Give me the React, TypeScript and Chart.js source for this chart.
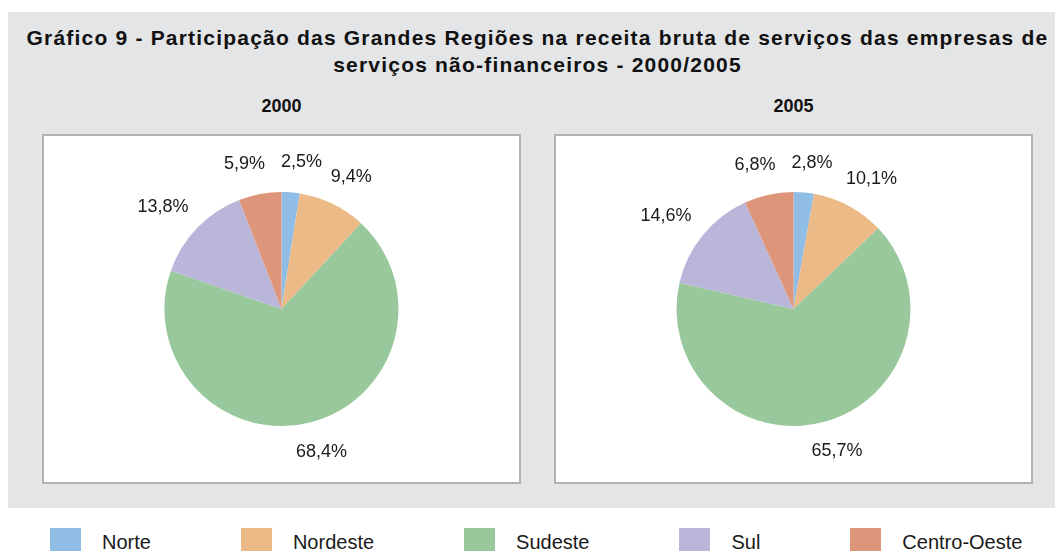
import React, { useEffect, useRef } from "react";
import { Chart, registerables } from "chart.js";

Chart.register(...registerables);

const regions = ["Norte", "Nordeste", "Sudeste", "Sul", "Centro-Oeste"];
const values2000 = [2.5, 9.4, 68.4, 13.8, 5.9];
const values2005 = [2.8, 10.1, 65.7, 14.6, 6.8];
const years = ["2000", "2005"];
const colors = ["#8fbde6", "#ecba86", "#99c89c", "#bab6d9", "#de967b"];

const titleLine1 =
  "Gráfico 9 - Participação das Grandes Regiões na receita bruta de serviços das empresas de";
const titleLine2 = "serviços não-financeiros - 2000/2005";

const FONT = '"Liberation Sans", Arial, Helvetica, sans-serif';

const fmt = (v: number) => v.toFixed(1).replace(".", ",") + "%";

const outLabels = {
  id: "outLabels",
  afterDatasetsDraw(chart: any) {
    const ctx = chart.ctx;
    const meta = chart.getDatasetMeta(0);
    const ds = chart.data.datasets[0];
    ctx.save();
    ctx.font = `18px ${FONT}`;
    ctx.fillStyle = "#1a1a1a";
    ctx.textAlign = "center";
    ctx.textBaseline = "middle";
    const h = 16;
    const boxes = meta.data.map((arc: any, i: number) => {
      const p = arc.getProps(["x", "y", "startAngle", "endAngle", "outerRadius"], true);
      const a = (p.startAngle + p.endAngle) / 2;
      const text = fmt(ds.data[i]);
      const w = ctx.measureText(text).width;
      const d = p.outerRadius + 22;
      const cx = p.x + Math.cos(a) * d + (Math.cos(a) * w) / 2;
      const cy = p.y + Math.sin(a) * d + (Math.sin(a) * h) / 2;
      return { text, w, cx, cy };
    });
    // simple collision resolution between neighbouring labels
    const minGap = 16;
    const n = boxes.length;
    for (let k = 0; k < n; k++) {
      const A = boxes[k];
      const B = boxes[(k + 1) % n];
      if (Math.abs(A.cy - B.cy) < h + 4) {
        const left = A.cx < B.cx ? A : B;
        const right = left === A ? B : A;
        const gap = right.cx - right.w / 2 - (left.cx + left.w / 2);
        if (gap < minGap) {
          const push = (minGap - gap) / 2;
          left.cx -= push;
          right.cx += push;
        }
      }
    }
    boxes.forEach((b: any) => ctx.fillText(b.text, b.cx, b.cy));
    ctx.restore();
  },
};

function PieChart({ values }: { values: number[] }) {
  const ref = useRef<HTMLCanvasElement | null>(null);
  useEffect(() => {
    if (!ref.current) return;
    const chart = new Chart(ref.current, {
      type: "pie",
      data: {
        labels: regions,
        datasets: [
          {
            data: values,
            backgroundColor: colors,
            borderWidth: 0,
            radius: 117,
          } as any,
        ],
      },
      options: {
        responsive: false,
        animation: false,
        plugins: {
          legend: { display: false },
          tooltip: { enabled: false },
        },
      },
      plugins: [outLabels],
    });
    return () => chart.destroy();
  }, [values]);
  return <canvas ref={ref} width={475} height={346} style={{ display: "block" }} />;
}

export default function App() {
  const panelStyle = (left: number): React.CSSProperties => ({
    position: "absolute",
    left,
    top: 134,
    width: 475,
    height: 346,
    border: "2px solid #b2b2b2",
    background: "#ffffff",
  });
  const yearStyle = (cx: number): React.CSSProperties => ({
    position: "absolute",
    left: cx - 60,
    width: 120,
    top: 96,
    textAlign: "center",
    font: `bold 18px ${FONT}`,
    lineHeight: "20px",
    color: "#111",
  });
  return (
    <div
      style={{
        position: "fixed",
        left: 0,
        top: 0,
        width: 1055,
        height: 551,
        overflow: "hidden",
        background: "#ffffff",
        fontFamily: FONT,
      }}
    >
      <div
        style={{
          position: "absolute",
          left: 8,
          top: 12,
          width: 1047,
          height: 496,
          background: "#e4e5e7",
        }}
      />
      <div
        style={{
          position: "absolute",
          left: 0,
          width: 1075,
          top: 24,
          textAlign: "center",
          font: `bold 21px ${FONT}`,
          letterSpacing: "1.2px",
          lineHeight: "27px",
          color: "#111",
          whiteSpace: "nowrap",
        }}
      >
        <div>{titleLine1}</div>
        <div>{titleLine2}</div>
      </div>
      <div style={yearStyle(281.5)}>{years[0]}</div>
      <div style={yearStyle(793.5)}>{years[1]}</div>
      <div style={panelStyle(42)}>
        <PieChart values={values2000} />
      </div>
      <div style={panelStyle(554)}>
        <PieChart values={values2005} />
      </div>
      <div
        style={{
          position: "absolute",
          left: 50,
          top: 528,
          display: "flex",
          gap: 90,
          whiteSpace: "nowrap",
        }}
      >
        {regions.map((r, i) => (
          <div key={r} style={{ display: "flex", alignItems: "flex-start" }}>
            <div style={{ width: 31, height: 26, background: colors[i] }} />
            <div
              style={{
                marginLeft: 21,
                marginTop: 4,
                font: `20px ${FONT}`,
                lineHeight: "20px",
                color: "#1a1a1a",
              }}
            >
              {r}
            </div>
          </div>
        ))}
      </div>
    </div>
  );
}
